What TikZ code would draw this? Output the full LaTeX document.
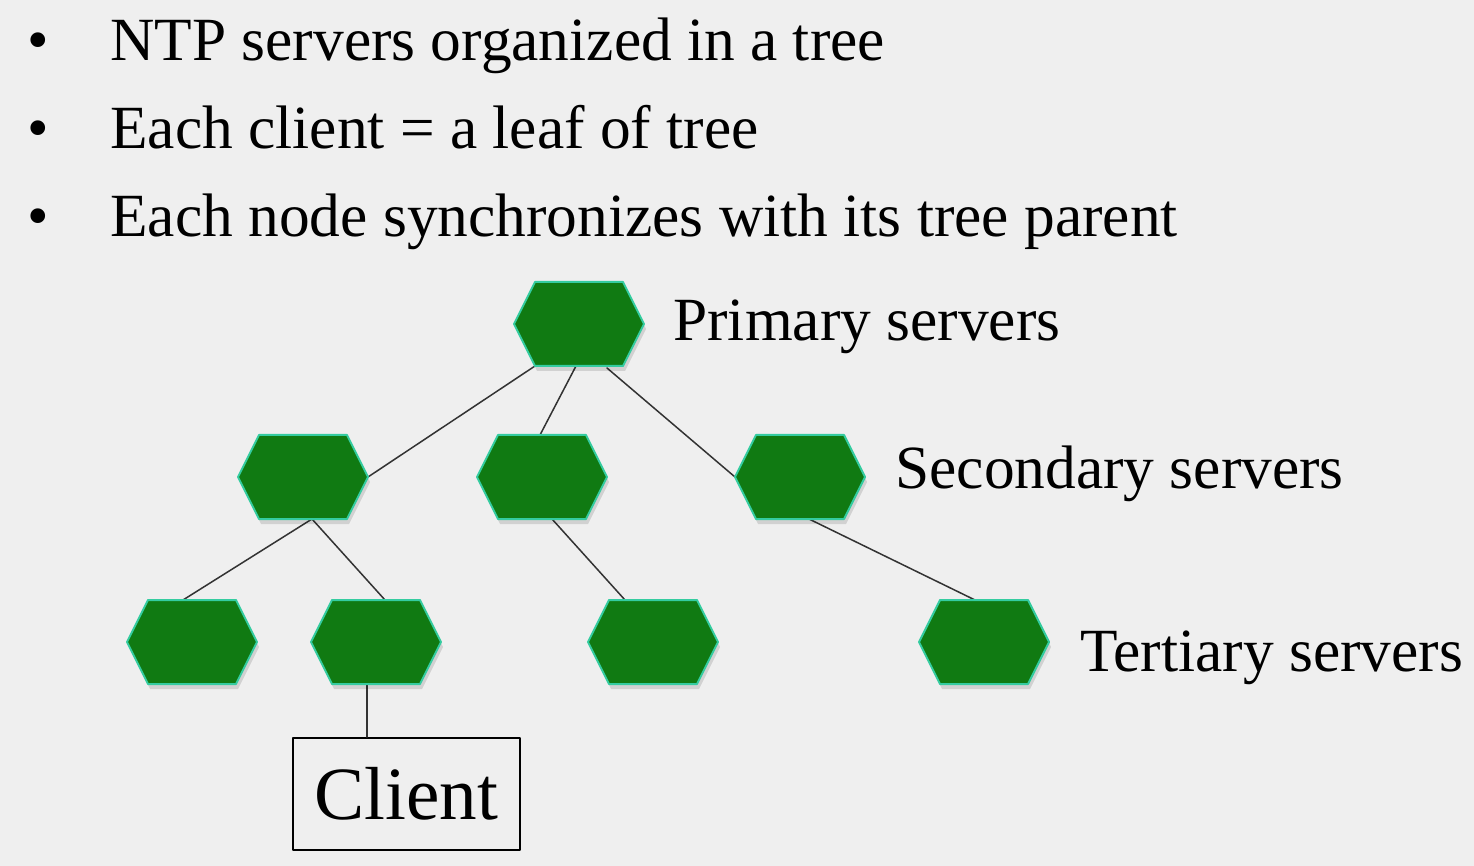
\documentclass[tikz,border=0pt]{standalone}
\usepackage{fontspec}
\setmainfont{Liberation Serif}
\usetikzlibrary{calc}
\definecolor{slidebg}{RGB}{239,239,239}
\definecolor{hexgreen}{RGB}{16,122,18}
\definecolor{hexedge}{RGB}{52,204,160}
\tikzset{
  hexfill/.style={fill=hexgreen,draw=hexedge,line width=1pt},
  hexshade/.style={fill=black,fill opacity=0.12},
  link/.style={draw=black!80,line width=0.75pt},
  bigtext/.style={font=\fontsize{30.7}{37}\selectfont,inner sep=0pt},
  clientbox/.style={draw,line width=1pt,minimum width=113.5pt,minimum height=56pt,inner sep=0pt,font=\fontsize{37.6}{45}\selectfont}
}
\begin{document}
\begin{tikzpicture}[line cap=round,line join=round,x=0.5pt,y=-0.5pt]
  \fill[slidebg] (0,0) rectangle (1474,866);
  \useasboundingbox (0,0) rectangle (1474,866);

  % bullet list
  \foreach \n/\y/\t in {1/61/NTP servers organized in a tree,
                        2/149/Each client = a leaf of tree,
                        3/237/Each node synchronizes with its tree parent}{
    \node[bigtext,anchor=base] (dot\n) at (38,\y) {•};
    \node[bigtext,anchor=base west] (item\n) at (110,\y) {\t};
  }

  % tree of servers
  \foreach \n/\x/\y in {P/579/324, S1/303/477, S2/542/477, S3/800/477,
                        T1/192/642, T2/376/642, T3/653/642, T4/984/642}{
    \coordinate (\n) at (\x,\y);
    \coordinate (\n-t) at (\x,\y-42);
    \coordinate (\n-b) at (\x,\y+42);
    \coordinate (\n-l) at (\x-65,\y);
    \coordinate (\n-r) at (\x+65,\y);
  }

  \node[clientbox] (client) at (406.5,794) {Client};
  \coordinate (T2-c) at ($(T2-b)+(-9,0)$);

  \draw[link] ($(P-b)+(-44,0)$) -- (S1-r);
  \draw[link] ($(P-b)+(-3,0)$) -- ($(S2-t)+(-2,0)$);
  \draw[link] ($(P-b)+(28,2)$) -- (S3-l);
  \draw[link] ($(S1-b)+(9,0)$) -- ($(T1-t)+(-9,0)$);
  \draw[link] ($(S1-b)+(9,0)$) -- ($(T2-t)+(9,0)$);
  \draw[link] ($(S2-b)+(10,0)$) -- ($(T3-t)+(-28,0)$);
  \draw[link] ($(S3-b)+(9,0)$) -- ($(T4-t)+(-9,0)$);
  \draw[link] (T2-c) -- (T2-c |- client.north);

  \foreach \n/\x/\y in {P/579/324, S1/303/477, S2/542/477, S3/800/477,
                        T1/192/642, T2/376/642, T3/653/642, T4/984/642}{
    \fill[hexshade] (\x-63,\y+5) -- (\x-42,\y-37) -- (\x+46,\y-37) -- (\x+67,\y+5)
      -- (\x+46,\y+47) -- (\x-42,\y+47) -- cycle;
    \draw[hexfill] (\x-65,\y) -- (\x-44,\y-42) -- (\x+44,\y-42) -- (\x+65,\y)
      -- (\x+44,\y+42) -- (\x-44,\y+42) -- cycle;
  }

  \node[bigtext,anchor=base west] (lblP) at (673,341) {Primary servers};
  \node[bigtext,anchor=base west] (lblS) at (895,488) {Secondary servers};
  \node[bigtext,anchor=base west] (lblT) at (1080,671) {Tertiary servers};
\end{tikzpicture}
\end{document}
